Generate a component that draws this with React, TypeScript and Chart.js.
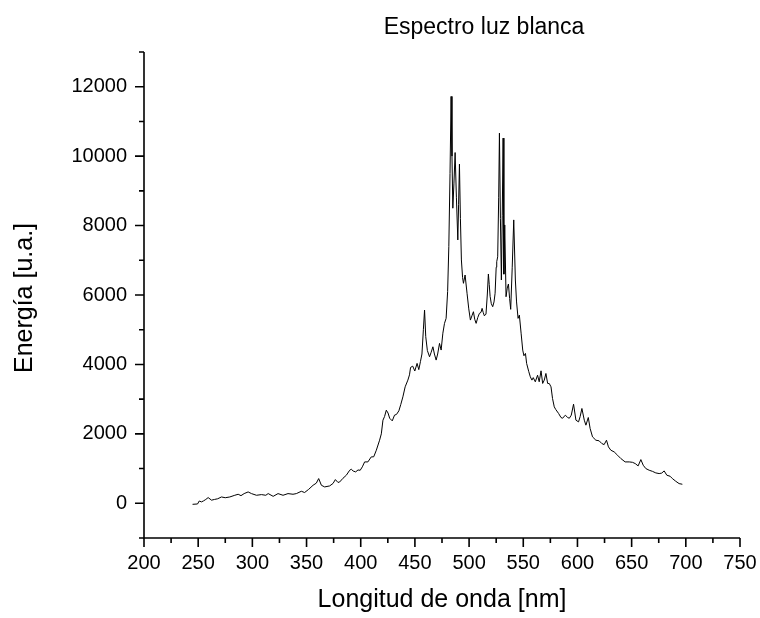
import React, { useEffect, useRef } from "react";
import { Chart, registerables } from "chart.js";

Chart.register(...registerables);

const chartTitle = "Espectro luz blanca";
const xTitle = "Longitud de onda [nm]";
const yTitle = "Energía [u.a.]";

const wavelengths = [
  244.8, 249.4, 251, 253, 255, 257, 259.2, 262.3, 265, 268, 271.5, 275, 279.2, 283.8, 286.9, 289.5,
  292.4, 296.1, 299.2, 303.8, 308.4, 312.4, 314.6, 319.2, 323.7, 328.3, 332.9, 337.5, 340.6, 345.2,
  348.2, 351.9, 356, 359, 361.2, 363.7, 366.7, 371.3, 374.4, 376.6, 379, 380.6, 383.6, 386.7, 389.8,
  391.3, 393, 395.3, 397.5, 399.5, 401.5, 403.6, 406.6, 409.7, 412, 414.4, 417.4, 419, 420.5, 422,
  423.6, 425.2, 426.7, 429.1, 431.2, 433, 435.2, 437, 438.9, 441, 443.5, 445, 446, 448, 449.9, 452,
  453.6, 455.1, 456.5, 457.8, 458.9, 460, 461.5, 463.5, 465, 466.6, 468, 469.6, 471, 472.7, 474.2,
  475.8, 477.3, 478.8, 480.2, 481.3, 482.4, 483.4, 484.2, 485, 486, 487.1, 488.3, 489.6, 490.3,
  491.1, 492, 492.9, 494, 494.8, 496.3, 498.1, 499.7, 501.2, 502.6, 504, 505.2, 506.5, 508, 509.5,
  511, 512, 513, 514.1, 515.6, 516.8, 517.8, 518.6, 519.4, 520.5, 521.8, 523, 524, 525, 525.5, 526.4,
  527.3, 528, 528.9, 529.8, 530.6, 531.4, 532.1, 532.9, 534.1, 535.2, 536.3, 537.4, 538.4, 539.8,
  541.2, 542.7, 543.8, 545.2, 546.4, 548, 549.5, 550.6, 552, 553.1, 555, 556.5, 558, 559.2, 561.1,
  563.2, 564.7, 566.4, 567.9, 569.4, 570.9, 572.5, 574, 575.6, 577, 578.6, 580, 582.6, 584.8, 586.3,
  588.8, 591, 592.5, 594.3, 596.4, 598.6, 601, 602.5, 604.1, 606.3, 607.8, 610, 611.7, 613.9, 617,
  620, 622.5, 624.6, 626.8, 628.6, 630.8, 633.9, 637, 640, 644, 647.8, 650.8, 653.3, 656, 658.5,
  660.7, 663.1, 666.2, 669.2, 672.3, 675.4, 677.8, 680, 682.5, 685.5, 687.6, 690.7, 693.8, 696.8,
];

const energy = [
  -30, -20, 66, 40, 70, 110, 164, 90, 110, 130, 182, 160, 182, 231, 260, 220,
  279, 327, 279, 231, 250, 231, 280, 200, 279, 231, 279, 260, 279, 346,
  310, 400, 519, 580, 712, 519, 471, 500, 570, 683, 600, 615, 720, 808, 952,
  981, 930, 904, 960, 950, 1050, 1192, 1192, 1336, 1340, 1529, 1817, 2000, 2394, 2500,
  2682, 2600, 2450, 2374, 2540, 2560, 2663, 2850, 3066, 3355, 3548, 3700, 3914, 3950, 3810, 4030,
  3850, 4080, 4300, 5000, 5567, 4800, 4400, 4220, 4350, 4508, 4300, 4125, 4300, 4606, 4414,
  4900, 5183, 5327, 6100, 7393, 9500, 11720, 10000, 8500, 9200, 10104, 8800, 7586, 8600,
  9770, 8200, 7009, 6500, 6337, 6576, 6050, 5600, 5278, 5400, 5518, 5300, 5183, 5350, 5470,
  5500, 5615, 5500, 5400, 5450, 6000, 6605, 6300, 5960, 5750, 5662, 5800, 6050, 6800, 6960, 7100,
  8800, 10663, 8200, 6432, 8300, 10520, 6600, 8018, 5950, 6200, 6317, 5900, 5587, 6800,
  8163, 6432, 5800, 5327, 5420, 4900, 4413, 4250, 4317, 4029, 3800, 3643, 3548, 3620, 3500,
  3690, 3500, 3816, 3452, 3550, 3740, 3452, 3450, 3355, 3020, 2778, 2700, 2587, 2471, 2450,
  2538, 2471, 2450, 2538, 2855, 2394, 2345, 2500, 2731, 2394, 2250, 2471, 2154, 1913, 1817,
  1800, 1721, 1690, 1817, 1625, 1529, 1480, 1384, 1290, 1192, 1192, 1180, 1144, 1077, 1259,
  1096, 1000, 952, 920, 875, 856, 870, 933, 808, 779, 712, 635, 567, 548,
];

const xRange = [200, 750];
const yRange = [-1000, 13000];
const xMajorTicks = [200, 250, 300, 350, 400, 450, 500, 550, 600, 650, 700, 750];
const yMajorTicks = [0, 2000, 4000, 6000, 8000, 10000, 12000];
const yAllTicks = [-1000, 0, 1000, 2000, 3000, 4000, 5000, 6000, 7000, 8000, 9000, 10000, 11000, 12000, 13000];
const xAllTicks = [200, 225, 250, 275, 300, 325, 350, 375, 400, 425, 450, 475, 500, 525, 550, 575, 600, 625, 650, 675, 700, 725, 750];

const FONT = "'Liberation Sans', Arial, sans-serif";

const decorPlugin = {
  id: "decor",
  afterDraw(chart: any) {
    const ctx = chart.ctx;
    const { left, right, top, bottom } = chart.chartArea;
    const xs = chart.scales.x;
    const ys = chart.scales.y;
    ctx.save();
    ctx.strokeStyle = "#000";
    ctx.lineWidth = 1.6;
    ctx.beginPath();
    ctx.moveTo(left, top);
    ctx.lineTo(left, bottom);
    ctx.lineTo(right, bottom);
    ctx.stroke();
    ctx.beginPath();
    xAllTicks.forEach((v) => {
      const px = xs.getPixelForValue(v);
      const len = xMajorTicks.includes(v) ? 9 : 5;
      ctx.moveTo(px, bottom);
      ctx.lineTo(px, bottom + len);
    });
    yAllTicks.forEach((v) => {
      const py = ys.getPixelForValue(v);
      const len = yMajorTicks.includes(v) ? 9 : 5;
      ctx.moveTo(left, py);
      ctx.lineTo(left - len, py);
    });
    ctx.stroke();

    ctx.fillStyle = "#000";
    ctx.textAlign = "center";
    ctx.textBaseline = "middle";
    ctx.font = `23px ${FONT}`;
    ctx.fillText(chartTitle, 484, 28);
    ctx.font = `25px ${FONT}`;
    ctx.fillText(xTitle, 442, 600);
    ctx.translate(25, 298);
    ctx.rotate(-Math.PI / 2);
    ctx.fillText(yTitle, 0, 0);
    ctx.restore();
  },
};

export default function App() {
  const ref = useRef<HTMLCanvasElement>(null);
  useEffect(() => {
    document.body.style.margin = "0";
    const points = wavelengths.map((w, i) => ({ x: w, y: energy[i] }));
    const chart = new Chart(ref.current!, {
      type: "line",
      data: {
        datasets: [
          {
            data: points,
            borderColor: "#000",
            borderWidth: 1,
            pointRadius: 0,
            tension: 0,
            fill: false,
          },
        ],
      },
      options: {
        animation: false,
        responsive: false,
        maintainAspectRatio: false,
        devicePixelRatio: 1,
        layout: { padding: { top: 52, right: 20, left: 0, bottom: 0 } },
        plugins: { legend: { display: false }, tooltip: { enabled: false }, title: { display: false } },
        scales: {
          x: {
            type: "linear",
            min: xRange[0],
            max: xRange[1],
            grid: { display: false, drawTicks: false },
            border: { display: false },
            afterBuildTicks: (s: any) => {
              s.ticks = xMajorTicks.map((v) => ({ value: v }));
            },
            afterFit: (s: any) => {
              s.height = 80;
              s.paddingLeft = 0;
              s.paddingRight = 0;
            },
            ticks: {
              color: "#000",
              font: { family: FONT, size: 20 },
              padding: 13,
              maxRotation: 0,
              autoSkip: false,
              callback: (v: any) => String(v),
            },
          },
          y: {
            type: "linear",
            min: yRange[0],
            max: yRange[1],
            grid: { display: false, drawTicks: false },
            border: { display: false },
            afterBuildTicks: (s: any) => {
              s.ticks = yMajorTicks.map((v) => ({ value: v }));
            },
            afterFit: (s: any) => {
              s.width = 144;
              s.paddingTop = 0;
              s.paddingBottom = 0;
            },
            ticks: {
              color: "#000",
              font: { family: FONT, size: 20 },
              padding: 17,
              autoSkip: false,
              callback: (v: any) => String(v),
            },
          },
        },
      },
      plugins: [decorPlugin],
    });
    return () => chart.destroy();
  }, []);
  return <canvas ref={ref} width={760} height={618} style={{ display: "block" }} />;
}
